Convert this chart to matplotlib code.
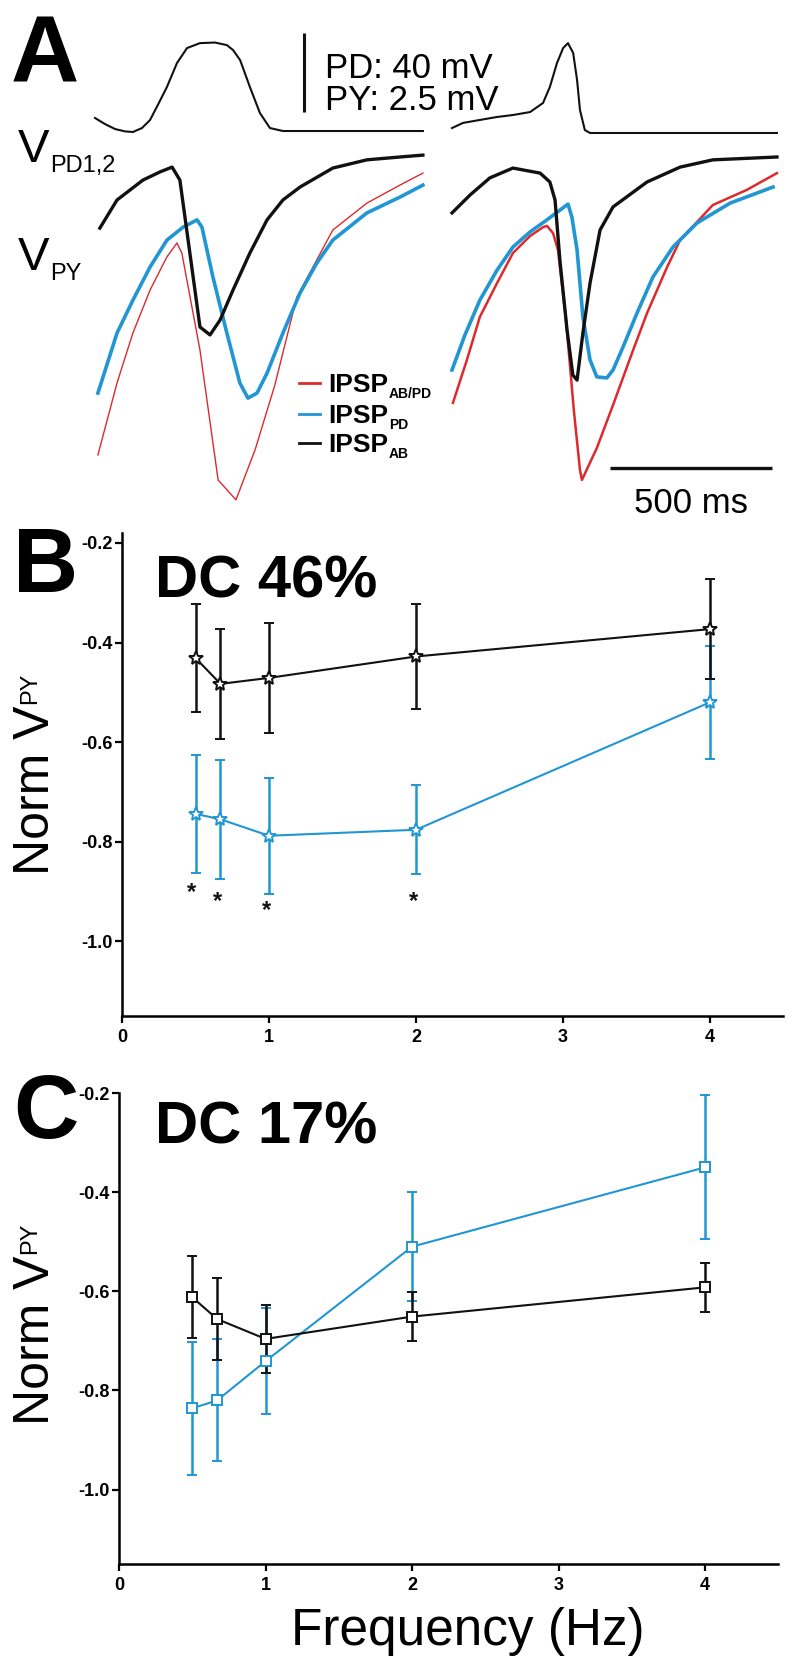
import matplotlib
matplotlib.use('Agg')
import matplotlib.pyplot as plt
from matplotlib.lines import Line2D

plt.rcParams['font.family'] = ['Liberation Sans', 'DejaVu Sans']

# ---------------- data ----------------
# Panel A : PD neuron voltage (mV rel. baseline) vs time (ms) for two sweeps
pd_left_t = [0, 31, 62, 93, 117, 145, 170, 194, 222, 253, 284, 324, 370, 407, 426, 448, 478, 509, 540, 580, 1012]
pd_left_v = [7.1, 4.0, 1.5, 0.3, 0.0, 2.0, 6.1, 13.7, 22.8, 34.9, 42.5, 45.0, 45.3, 44.0, 41.5, 36.4, 22.8, 9.6, 2.0, 0.5, 0.5]
pd_right_t = [0, 34, 86, 139, 188, 241, 281, 302, 324, 343, 358, 374, 386, 395, 410, 426, 1003]
pd_right_v = [2.0, 4.6, 6.1, 7.6, 8.6, 10.1, 14.7, 22.8, 34.9, 42.5, 45.0, 40.0, 26.3, 11.1, 1.0, -0.5, -0.5]

# PY neuron voltage (mV rel. rest) vs time (ms)
ab_left_t = [15, 68, 148, 201, 238, 262, 324, 355, 386, 426, 478, 531, 580, 633, 734, 839, 941, 1012]
ab_left_v = [-2.25, -1.36, -0.73, -0.47, -0.32, -0.73, -5.38, -5.63, -5.16, -4.21, -3.04, -1.99, -1.36, -0.95, -0.35, -0.09, 0.0, 0.06]
pdi_left_t = [9, 68, 117, 170, 222, 272, 315, 330, 364, 407, 447, 472, 500, 531, 580, 633, 685, 734, 839, 941, 1012]
pdi_left_v = [-7.47, -5.57, -4.53, -3.48, -2.63, -2.22, -1.99, -2.22, -3.80, -5.57, -7.15, -7.63, -7.47, -6.84, -5.57, -4.30, -3.35, -2.63, -1.77, -1.27, -0.89]
abpd_left_t = [9, 68, 117, 170, 222, 253, 268, 324, 380, 435, 494, 555, 623, 734, 839, 941, 1012]
abpd_left_v = [-9.43, -7.15, -5.57, -4.21, -3.16, -2.72, -3.04, -6.11, -10.22, -10.85, -9.27, -7.22, -4.43, -2.31, -1.46, -0.89, -0.51]

ab_right_t = [0, 56, 117, 188, 272, 302, 318, 333, 355, 373, 386, 404, 426, 457, 497, 602, 704, 805, 1003]
ab_right_v = [-1.77, -1.20, -0.66, -0.35, -0.51, -0.79, -1.36, -3.26, -5.47, -6.90, -7.06, -5.57, -3.99, -2.31, -1.58, -0.79, -0.32, -0.09, 0.0]
pdi_right_t = [0, 40, 86, 139, 188, 241, 293, 358, 370, 386, 404, 426, 447, 478, 497, 528, 571, 620, 682, 756, 858, 991]
pdi_right_v = [-6.74, -5.63, -4.53, -3.58, -2.85, -2.37, -1.99, -1.49, -1.90, -2.94, -5.06, -6.42, -6.96, -6.99, -6.74, -6.01, -4.94, -3.80, -2.85, -2.09, -1.46, -0.95]
abpd_right_t = [3, 46, 86, 139, 188, 241, 281, 293, 312, 327, 352, 376, 395, 401, 447, 497, 559, 602, 664, 704, 805, 910, 1003]
abpd_right_v = [-7.78, -6.42, -5.06, -3.99, -3.04, -2.50, -2.22, -2.18, -2.41, -2.94, -5.16, -8.01, -9.91, -10.22, -9.21, -7.85, -6.11, -4.94, -3.48, -2.63, -1.52, -1.04, -0.51]

scale_pd_mv = 40
scale_py_mv = 2.5
scale_ms = 500

legend_main = ['IPSP', 'IPSP', 'IPSP']
legend_sub = ['AB/PD', 'PD', 'AB']

# Panels B and C
freq = [0.5, 0.67, 1, 2, 4]
b_ab_mean = [-0.431, -0.483, -0.471, -0.428, -0.373]
b_ab_err = [0.108, 0.110, 0.110, 0.106, 0.100]
b_pd_mean = [-0.744, -0.755, -0.788, -0.776, -0.520]
b_pd_err = [0.118, 0.119, 0.116, 0.089, 0.113]
c_ab_mean = [-0.612, -0.656, -0.696, -0.651, -0.592]
c_ab_err = [0.083, 0.083, 0.068, 0.050, 0.049]
c_pd_mean = [-0.836, -0.820, -0.741, -0.510, -0.350]
c_pd_err = [0.134, 0.123, 0.107, 0.110, 0.145]
sig_x = [0.47, 0.65, 0.98, 1.98]
sig_y = [-0.903, -0.920, -0.938, -0.920]

xtick_vals = [0, 1, 2, 3, 4]
xtick_labels = ['0', '1', '2', '3', '4']
ytick_vals = [-1.0, -0.8, -0.6, -0.4, -0.2]
ytick_labels = ['-1.0', '-0.8', '-0.6', '-0.4', '-0.2']

RED = '#DD2A2C'
BLUE = '#2196D3'
BLACK = '#111111'

# ---------------- layout helpers ----------------
W, H = 792, 1671
fig = plt.figure(figsize=(W / 100, H / 100), dpi=100)
renderer = fig.canvas.get_renderer()


def box(x0, y0, x1, y1):
    return [x0 / W, 1 - y1 / H, (x1 - x0) / W, (y1 - y0) / H]


def ftext(x, y, s, **kw):
    return fig.text(x / W, 1 - y / H, s, **kw)


def text_sub(x, y, main, sub, size, subsize, drop, weight='normal', gap=1):
    t = ftext(x, y, main, fontsize=size, fontweight=weight, ha='left', va='baseline')
    bb = t.get_window_extent(renderer=renderer)
    ftext(bb.x1 + gap, y + drop, sub, fontsize=subsize, fontweight=weight, ha='left', va='baseline')


def rot_label(x_base, y_start, main, sub, size, subsize, raise_px, gap=2):
    t = ftext(x_base, y_start, main, fontsize=size, rotation=90, rotation_mode='anchor',
              ha='left', va='baseline')
    bb = t.get_window_extent(renderer=renderer)
    y_end = H - bb.y1
    ftext(x_base - raise_px, y_end - gap, sub, fontsize=subsize, rotation=90,
          rotation_mode='anchor', ha='left', va='baseline')


# ---------------- Panel A ----------------
ms_per_px = scale_ms / 162.0
pd_px_per_mv = 79.0 / scale_pd_mv
py_px_per_mv = 79.0 / scale_py_mv
x0_px = 95
right_offset = (452 - x0_px) * ms_per_px
top_h = 525

axPD = fig.add_axes(box(0, 0, W, top_h))
axPY = fig.add_axes(box(0, 0, W, top_h))
for a in (axPD, axPY):
    a.set_xlim(-x0_px * ms_per_px, (W - x0_px) * ms_per_px)
    a.axis('off')
    a.patch.set_alpha(0)
axPD.set_ylim(-(top_h - 132) / pd_px_per_mv, 132 / pd_px_per_mv)
axPY.set_ylim(-(top_h - 157) / py_px_per_mv, 157 / py_px_per_mv)

axPD.plot(pd_left_t, pd_left_v, color=BLACK, lw=1.5, solid_joinstyle='round')
axPD.plot([t + right_offset for t in pd_right_t], pd_right_v, color=BLACK, lw=1.5, solid_joinstyle='round')

axPY.plot(abpd_left_t, abpd_left_v, color=RED, lw=1.0)
axPY.plot(pdi_left_t, pdi_left_v, color=BLUE, lw=2.6, solid_joinstyle='round')
axPY.plot(ab_left_t, ab_left_v, color=BLACK, lw=2.4, solid_joinstyle='round')
axPY.plot([t + right_offset for t in abpd_right_t], abpd_right_v, color=RED, lw=1.8)
axPY.plot([t + right_offset for t in pdi_right_t], pdi_right_v, color=BLUE, lw=2.6, solid_joinstyle='round')
axPY.plot([t + right_offset for t in ab_right_t], ab_right_v, color=BLACK, lw=2.4, solid_joinstyle='round')

# scale bars
bar_t = (304 - x0_px) * ms_per_px
axPD.plot([bar_t, bar_t], [(132 - 112) / pd_px_per_mv, (132 - 112) / pd_px_per_mv + scale_pd_mv],
          color=BLACK, lw=2.2, solid_capstyle='butt')
hb_t0 = (610 - x0_px) * ms_per_px
hb_v = (157 - 468) / py_px_per_mv
axPY.plot([hb_t0, hb_t0 + scale_ms], [hb_v, hb_v], color=BLACK, lw=2.4, solid_capstyle='butt')

ftext(691, 513, '%d ms' % scale_ms, fontsize=25, ha='center', va='baseline')
ftext(325, 78, 'PD: %d mV' % scale_pd_mv, fontsize=25, ha='left', va='baseline')
ftext(325, 110, 'PY: %.1f mV' % scale_py_mv, fontsize=25, ha='left', va='baseline')

ftext(11, 82, 'A', fontsize=68, fontweight='bold', ha='left', va='baseline')
text_sub(18, 162, 'V', 'PD1,2', 34, 17, 10)
text_sub(18, 270, 'V', 'PY', 34, 17, 10)

# legend
leg_colors = [RED, BLUE, BLACK]
leg_y = [383, 414, 443]
for c, yy, m, s in zip(leg_colors, leg_y, legend_main, legend_sub):
    fig.add_artist(Line2D([299 / W, 320 / W], [1 - yy / H, 1 - yy / H], color=c, lw=2.0))
    text_sub(328, yy + 9, m, s, 19, 10, 6, weight='bold', gap=1)


# ---------------- Panels B & C ----------------
def style_axes(ax, ylim):
    ax.set_xlim(0, 4.5)
    ax.set_ylim(*ylim)
    for s in ('top', 'right'):
        ax.spines[s].set_visible(False)
    for s in ('left', 'bottom'):
        ax.spines[s].set_linewidth(1.8)
    ax.set_xticks(xtick_vals)
    ax.set_xticklabels(xtick_labels, fontweight='bold', fontsize=13)
    ax.set_yticks(ytick_vals)
    ax.set_yticklabels(ytick_labels, fontweight='bold', fontsize=13)
    ax.tick_params(direction='out', length=5, width=1.6, pad=2)
    ax.tick_params(axis='x', pad=4)
    ax.patch.set_alpha(0)


def series(ax, mean, err, color, marker, ms):
    ax.errorbar(freq, mean, yerr=err, color=color, ecolor=color, lw=1.5,
                marker=marker, ms=ms, mfc='white', mec=color, mew=1.4,
                elinewidth=1.8, capsize=3.5, capthick=1.8, clip_on=False)


axB = fig.add_axes(box(122, 533, 122 + 4.5 * 147, 1016))
style_axes(axB, (-1.15, -0.18))
series(axB, b_pd_mean, b_pd_err, BLUE, '*', 10)
series(axB, b_ab_mean, b_ab_err, BLACK, '*', 10)
for sx, sy in zip(sig_x, sig_y):
    axB.text(sx, sy, '*', fontsize=17, fontweight='bold', ha='center', va='center', color=BLACK)

axC = fig.add_axes(box(119, 1093, 119 + 4.5 * 146.5, 1564))
style_axes(axC, (-1.15, -0.2))
series(axC, c_pd_mean, c_pd_err, BLUE, 's', 6.5)
series(axC, c_ab_mean, c_ab_err, BLACK, 's', 6.5)

ftext(13, 592, 'B', fontsize=65, fontweight='bold', ha='left', va='baseline')
ftext(155, 597, 'DC 46%', fontsize=43, fontweight='bold', ha='left', va='baseline')
ftext(13, 1138, 'C', fontsize=65, fontweight='bold', ha='left', va='baseline')
ftext(155, 1143, 'DC 17%', fontsize=43, fontweight='bold', ha='left', va='baseline')

rot_label(49, 875, 'Norm V', 'PY', 36, 17, 13)
rot_label(49, 875 + 550, 'Norm V', 'PY', 36, 17, 13)

ftext(468, 1645, 'Frequency (Hz)', fontsize=37, ha='center', va='baseline')

fig.savefig('out.png', dpi=100)
